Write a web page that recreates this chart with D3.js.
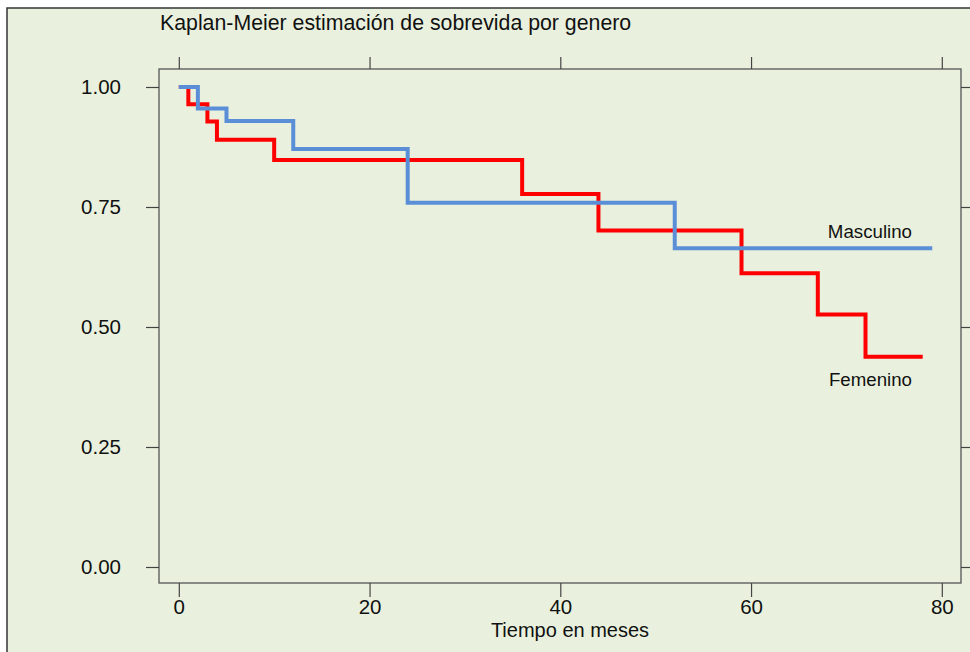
<!DOCTYPE html>
<html>
<head>
<meta charset="utf-8">
<script src="https://cdn.jsdelivr.net/npm/d3@7"></script>
<style>
  body { margin: 0; background: #fff; }
  svg { display: block; font-family: Arial, "Liberation Sans", sans-serif; }
</style>
</head>
<body>
<svg id="chart" width="970" height="652"></svg>
<script>
  // datos de supervivencia (tiempo en meses, S(t))
  var masTime = [0, 2, 5, 12, 24, 52, 79];
  var masSurv = [1, 0.955, 0.929, 0.871, 0.759, 0.664, 0.664];
  var femTime = [0, 1, 3, 4, 10, 36, 44, 59, 67, 72, 78];
  var femSurv = [1, 0.964, 0.928, 0.890, 0.848, 0.777, 0.701, 0.612, 0.526, 0.438, 0.438];
  var xTicks = [0, 20, 40, 60, 80];
  var yTicks = [0, 0.25, 0.5, 0.75, 1];
  var seriesNames = ["Masculino", "Femenino"];

  var svg = d3.select("#chart");
  var pLeft = 159, pRight = 961, pTop = 69, pBottom = 583;

  var x = d3.scaleLinear().domain([0, 80]).range([178.8, 941.8]);
  var y = d3.scaleLinear().domain([0, 1]).range([567, 87]);

  // fondo y marco exterior
  svg.append("rect").attr("x", 7).attr("y", 8).attr("width", 980).attr("height", 660)
    .attr("fill", "#e9f1de").attr("stroke", "#333").attr("stroke-width", 1.5);

  // titulo
  svg.append("text").attr("x", 160).attr("y", 29.5).attr("font-size", 21.3).attr("fill", "#111")
    .text("Kaplan-Meier estimación de sobrevida por genero");

  // marco del area del grafico
  svg.append("rect").attr("x", pLeft).attr("y", pTop).attr("width", pRight - pLeft).attr("height", pBottom - pTop)
    .attr("fill", "none").attr("stroke", "#555").attr("stroke-width", 1.3);

  function styleAxis(g) {
    g.select(".domain").remove();
    g.selectAll(".tick line").attr("stroke", "#444").attr("stroke-width", 1.2);
    g.selectAll(".tick text").attr("font-size", 20.5).attr("fill", "#111").attr("font-family", "Arial, 'Liberation Sans', sans-serif");
  }

  svg.append("g").attr("transform", "translate(0," + pBottom + ")")
    .call(d3.axisBottom(x).tickValues(xTicks).tickSize(14).tickPadding(2).tickFormat(d3.format("d")))
    .call(styleAxis);
  svg.append("g").attr("transform", "translate(0," + pTop + ")")
    .call(d3.axisTop(x).tickValues(xTicks).tickSize(12).tickFormat(""))
    .call(styleAxis);
  svg.append("g").attr("transform", "translate(" + pLeft + ",0)")
    .call(d3.axisLeft(y).tickValues(yTicks).tickSize(13).tickPadding(25).tickFormat(d3.format(".2f")))
    .call(styleAxis);
  svg.append("g").attr("transform", "translate(" + pRight + ",0)")
    .call(d3.axisRight(y).tickValues(yTicks).tickSize(10).tickFormat(""))
    .call(styleAxis);

  // titulo eje x
  svg.append("text").attr("x", 570).attr("y", 637).attr("text-anchor", "middle")
    .attr("font-size", 20).attr("fill", "#111").text("Tiempo en meses");

  var line = d3.line().curve(d3.curveStepAfter)
    .x(function(d){ return x(d[0]); })
    .y(function(d){ return y(d[1]); });

  var fem = d3.zip(femTime, femSurv);
  var mas = d3.zip(masTime, masSurv);

  svg.append("path").datum(fem).attr("d", line)
    .attr("fill", "none").attr("stroke", "#ff0000").attr("stroke-width", 4).attr("stroke-linejoin", "miter");
  svg.append("path").datum(mas).attr("d", line)
    .attr("fill", "none").attr("stroke", "#5a8fd7").attr("stroke-width", 4).attr("stroke-linejoin", "miter");

  // etiquetas de las curvas
  svg.append("text").attr("x", 912).attr("y", 238).attr("text-anchor", "end")
    .attr("font-size", 18.7).attr("fill", "#111").text(seriesNames[0]);
  svg.append("text").attr("x", 912).attr("y", 386).attr("text-anchor", "end")
    .attr("font-size", 18.7).attr("fill", "#111").text(seriesNames[1]);
</script>
</body>
</html>
